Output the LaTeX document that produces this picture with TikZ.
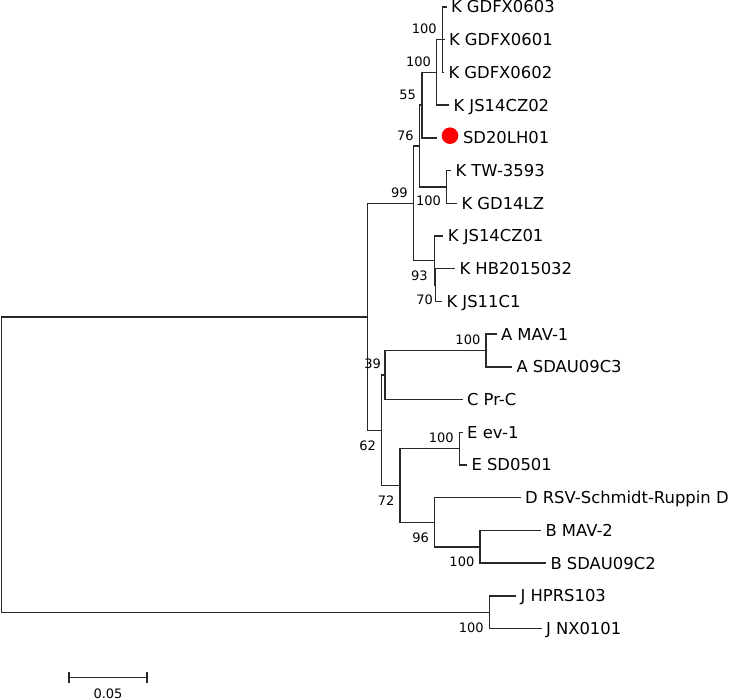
\documentclass[tikz,border=0pt]{standalone}
\usepackage{fontspec}
\setmainfont{DejaVu Sans}
\usetikzlibrary{arrows.meta, positioning}
\definecolor{treecolor}{RGB}{40, 40, 40}
\definecolor{markcolor}{RGB}{255, 0, 0}

\begin{document}
\begin{tikzpicture}[
    x=1pt, y=-1pt,
    branch/.style={draw=treecolor, line width=1.4pt},
    taxon/.style={anchor=base west, inner sep=0pt, xshift=4.3pt, yshift=-5.9pt, font=\fontsize{16.4}{19}\selectfont},
    bootup/.style={anchor=east, inner sep=0pt, xshift=-5.5pt, yshift=10.7pt, font=\fontsize{13}{15}\selectfont},
    bootdown/.style={anchor=east, inner sep=0pt, xshift=-5.5pt, yshift=-15pt, font=\fontsize{13}{15}\selectfont},
    marker/.style={circle, fill=markcolor, inner sep=0pt, minimum size=16.6pt}
]
\useasboundingbox (0, 0) rectangle (729, 700);

% === Internal nodes ===
\coordinate (k1) at (442.3, 39.7);
\coordinate (k2) at (436.7, 72.4);
\coordinate (k3) at (422.0, 105.2);
\coordinate (k4) at (419.3, 146.1);
\coordinate (k5) at (446.7, 187.0);
\coordinate (k6) at (413.3, 203.4);
\coordinate (k7) at (435.5, 285.2);
\coordinate (k8) at (434.3, 260.6);
\coordinate (n9) at (367.3, 316.9);
\coordinate (a1) at (486.0, 350.6);
\coordinate (ac) at (385.0, 375.1);
\coordinate (n10) at (381.7, 430.4);
\coordinate (e1) at (459.3, 448.8);
\coordinate (edb) at (400.0, 485.6);
\coordinate (db) at (434.5, 522.4);
\coordinate (b1) at (480.0, 546.9);
\coordinate (j1) at (489.3, 612.4);
\coordinate (root) at (1.5, 464.6);

% === Branch tips ===
\coordinate (t0) at (446.5, 7.0);
\coordinate (t1) at (444.5, 39.7);
\coordinate (t2) at (444.0, 72.4);
\coordinate (t3) at (449.0, 105.2);
\coordinate (t4) at (436.7, 137.9);
\coordinate (t5) at (451.0, 170.6);
\coordinate (t6) at (457.0, 203.3);
\coordinate (t7) at (443.3, 236.0);
\coordinate (t8) at (455.0, 268.8);
\coordinate (t9) at (442.0, 301.5);
\coordinate (t10) at (496.5, 334.2);
\coordinate (t11) at (512.0, 366.9);
\coordinate (t12) at (462.5, 399.6);
\coordinate (t13) at (462.7, 432.4);
\coordinate (t14) at (467.0, 465.1);
\coordinate (t15) at (520.5, 497.8);
\coordinate (t16) at (541.0, 530.5);
\coordinate (t17) at (546.0, 563.2);
\coordinate (t18) at (516.0, 596.0);
\coordinate (t19) at (541.5, 628.7);

% === K clade ===
\draw[branch] (k1) |- (t0);
\draw[branch] (k1) |- (t1);
\draw[branch] (k1) |- (t2);
\draw[branch] (k2) |- (k1);
\draw[branch] (k2) |- (t3);
\draw[branch] (k3) |- (k2);
\draw[branch] (k3) |- (t4);
\draw[branch] (k5) |- (t5);
\draw[branch] (k5) |- (t6);
\draw[branch] (k4) |- (k3);
\draw[branch] (k4) |- (k5);
\draw[branch] (k7) |- (t8);
\draw[branch] (k7) |- (t9);
\draw[branch] (k8) |- (t7);
\draw[branch] (k8) |- (k7);
\draw[branch] (k6) |- (k4);
\draw[branch] (k6) |- (k8);

% === A, C, E, D, B clades ===
\draw[branch] (a1) |- (t10);
\draw[branch] (a1) |- (t11);
\draw[branch] (ac) |- (a1);
\draw[branch] (ac) |- (t12);
\draw[branch] (e1) |- (t13);
\draw[branch] (e1) |- (t14);
\draw[branch] (b1) |- (t16);
\draw[branch] (b1) |- (t17);
\draw[branch] (db) |- (t15);
\draw[branch] (db) |- (b1);
\draw[branch] (edb) |- (e1);
\draw[branch] (edb) |- (db);
\draw[branch] (n10) |- (ac);
\draw[branch] (n10) |- (edb);
\draw[branch] (n9) |- (k6);
\draw[branch] (n9) |- (n10);

% === J clade and root ===
\draw[branch] (j1) |- (t18);
\draw[branch] (j1) |- (t19);
\draw[branch] (root) |- (n9);
\draw[branch] (root) |- (j1);

% === Taxa ===
\node[taxon] (l0) at (t0) {K GDFX0603};
\node[taxon] (l1) at (t1) {K GDFX0601};
\node[taxon] (l2) at (t2) {K GDFX0602};
\node[taxon] (l3) at (t3) {K JS14CZ02};
\node[marker] (mark) at (450, 135.7) {};
\node[taxon] (l4) at (mark.east |- t4) {SD20LH01};
\node[taxon] (l5) at (t5) {K TW-3593};
\node[taxon] (l6) at (t6) {K GD14LZ};
\node[taxon] (l7) at (t7) {K JS14CZ01};
\node[taxon] (l8) at (t8) {K HB2015032};
\node[taxon] (l9) at (t9) {K JS11C1};
\node[taxon] (l10) at (t10) {A MAV-1};
\node[taxon] (l11) at (t11) {A SDAU09C3};
\node[taxon] (l12) at (t12) {C Pr-C};
\node[taxon] (l13) at (t13) {E ev-1};
\node[taxon] (l14) at (t14) {E SD0501};
\node[taxon] (l15) at (t15) {D RSV-Schmidt-Ruppin D};
\node[taxon] (l16) at (t16) {B MAV-2};
\node[taxon] (l17) at (t17) {B SDAU09C2};
\node[taxon] (l18) at (t18) {J HPRS103};
\node[taxon] (l19) at (t19) {J NX0101};

% === Bootstrap values ===
\node[bootup] (bk1) at (k1) {100};
\node[bootup] (bk2) at (k2) {100};
\node[bootup, xshift=-0.5pt] (bk3) at (k3) {55};
\node[bootup] (bk4) at (k4) {76};
\node[bootdown, yshift=1.5pt] (bk5) at (k5) {100};
\node[bootup] (bk6) at (k6) {99};
\node[bootdown, xshift=-1pt] (bk8) at (k8) {93};
\node[bootdown, xshift=3pt] (bk7) at (k7) {70};
\node[bootup] (ba1) at (a1) {100};
\node[bootup, xshift=1.5pt, yshift=1pt] (bac) at (ac) {39};
\node[bootdown] (bn10) at (n10) {62};
\node[bootup] (be1) at (e1) {100};
\node[bootdown] (bedb) at (edb) {72};
\node[bootdown] (bdb) at (db) {96};
\node[bootdown] (bb1) at (b1) {100};
\node[bootdown] (bj1) at (j1) {100};

% === Scale bar ===
\coordinate (s0) at (68.3, 677.7);
\coordinate (s1) at (147.7, 677.7);
\draw[branch, {Bar[width=11pt]}-{Bar[width=11pt]}] (s0) -- (s1);
\node[font=\fontsize{13}{15}\selectfont, inner sep=0pt] (scale) at (108, 693.3) {0.05};

\end{tikzpicture}
\end{document}
